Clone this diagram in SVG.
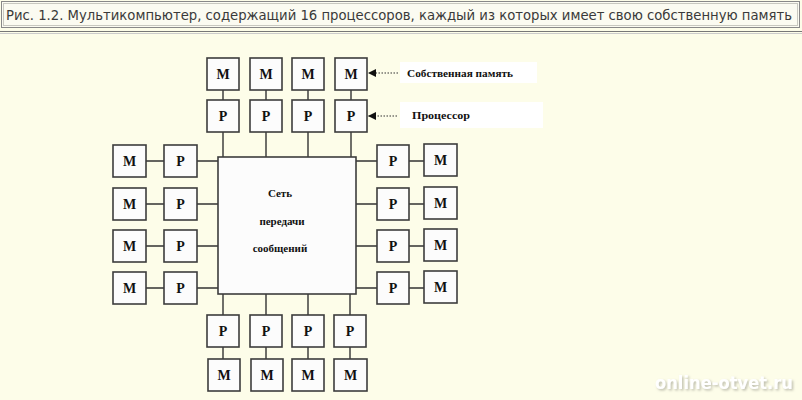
<svg xmlns="http://www.w3.org/2000/svg" width="802" height="400" viewBox="0 0 802 400">
<defs>
<style>
.bx{fill:#fcfcfc;stroke:#3c3c3c;stroke-width:1.6}
.lt{font-family:"Liberation Serif",serif;font-weight:bold;font-size:14px;fill:#111;text-anchor:middle}
.cn{stroke:#333;stroke-width:1.4;fill:none}
.dt{stroke:#333;stroke-width:1.2;stroke-dasharray:1.5 1.5;fill:none}
.lb{font-family:"Liberation Serif",serif;font-weight:bold;font-size:11px;fill:#111}
.ct{font-family:"Liberation Serif",serif;font-weight:bold;font-size:11px;fill:#111;text-anchor:middle}
</style>
<marker id="ah" viewBox="0 0 10 10" refX="10" refY="5" markerWidth="8" markerHeight="8" markerUnits="userSpaceOnUse" orient="auto">
<path d="M0,0 L10,5 L0,10 Z" fill="#111"/>
</marker>
<filter id="sh" x="-10%" y="-30%" width="120%" height="160%">
<feDropShadow dx="1.5" dy="1.5" stdDeviation="1.2" flood-color="#b8b8a8" flood-opacity="0.9"/>
</filter>
</defs>
<rect x="0" y="0" width="802" height="400" fill="#fdfde9"/>
<g id="title">
<rect x="1.5" y="1.5" width="798" height="26" fill="#fbfbf1" stroke="#888" stroke-width="1"/>
<rect x="3.5" y="3.5" width="794" height="22" fill="none" stroke="#c8c8c0" stroke-width="1"/>
<line x1="0" y1="31.5" x2="802" y2="31.5" stroke="#777" stroke-width="1"/>
<line x1="0" y1="33.5" x2="802" y2="33.5" stroke="#ccc" stroke-width="1"/>
<text x="6" y="20" font-family="'DejaVu Sans Condensed','DejaVu Sans',sans-serif" font-size="14.5" fill="#3a3a3a" textLength="786" lengthAdjust="spacingAndGlyphs">Рис. 1.2. Мультикомпьютер, содержащий 16 процессоров, каждый из которых имеет свою собственную память</text>
</g>
<g id="connectors">
<path class="cn" d="M223,90V100M266,90V100M308,90V100M351,90V100"/>
<path class="cn" d="M223,132V157M266,132V157M308,132V157M351,132V157"/>
<path class="cn" d="M146,161H164M146,204H164M146,246H164M146,288H164"/>
<path class="cn" d="M197,161H218M197,204H218M197,246H218M197,288H218"/>
<path class="cn" d="M356,161H377M356,204H377M356,246H377M356,288H377"/>
<path class="cn" d="M409,161H424M409,204H424M409,246H424M409,288H424"/>
<path class="cn" d="M223,294V315M266,294V315M308,294V315M350,294V315"/>
<path class="cn" d="M223,347V359M266,347V359M308,347V359M350,347V359"/>
<line class="dt" x1="398" y1="73" x2="368" y2="73" marker-end="url(#ah)"/>
<line class="dt" x1="397" y1="116" x2="368" y2="116" marker-end="url(#ah)"/>
</g>
<g id="net"><rect class="bx" x="218" y="157" width="138" height="137"/>
<text class="ct" x="280" y="197">Сеть</text>
<text class="ct" x="282" y="225">передачи</text>
<text class="ct" x="280" y="252">сообщений</text></g>
<g id="mt1"><rect class="bx" x="207" y="58" width="32" height="32"/><text class="lt" x="223" y="79">M</text></g>
<g id="mt2"><rect class="bx" x="250" y="58" width="32" height="32"/><text class="lt" x="266" y="79">M</text></g>
<g id="mt3"><rect class="bx" x="292" y="58" width="32" height="32"/><text class="lt" x="308" y="79">M</text></g>
<g id="mt4"><rect class="bx" x="335" y="58" width="32" height="32"/><text class="lt" x="351" y="79">M</text></g>
<g id="pt1"><rect class="bx" x="207" y="100" width="32" height="32"/><text class="lt" x="223" y="121">P</text></g>
<g id="pt2"><rect class="bx" x="250" y="100" width="32" height="32"/><text class="lt" x="266" y="121">P</text></g>
<g id="pt3"><rect class="bx" x="292" y="100" width="32" height="32"/><text class="lt" x="308" y="121">P</text></g>
<g id="pt4"><rect class="bx" x="335" y="100" width="32" height="32"/><text class="lt" x="351" y="121">P</text></g>
<g id="ml1"><rect class="bx" x="113" y="145" width="33" height="32"/><text class="lt" x="129.5" y="166">M</text></g>
<g id="ml2"><rect class="bx" x="113" y="188" width="33" height="32"/><text class="lt" x="129.5" y="209">M</text></g>
<g id="ml3"><rect class="bx" x="113" y="230" width="33" height="32"/><text class="lt" x="129.5" y="251">M</text></g>
<g id="ml4"><rect class="bx" x="113" y="272" width="33" height="32"/><text class="lt" x="129.5" y="293">M</text></g>
<g id="pl1"><rect class="bx" x="164" y="145" width="33" height="32"/><text class="lt" x="180.5" y="166">P</text></g>
<g id="pl2"><rect class="bx" x="164" y="188" width="33" height="32"/><text class="lt" x="180.5" y="209">P</text></g>
<g id="pl3"><rect class="bx" x="164" y="230" width="33" height="32"/><text class="lt" x="180.5" y="251">P</text></g>
<g id="pl4"><rect class="bx" x="164" y="272" width="33" height="32"/><text class="lt" x="180.5" y="293">P</text></g>
<g id="pr1"><rect class="bx" x="377" y="145" width="32" height="32"/><text class="lt" x="393" y="166">P</text></g>
<g id="pr2"><rect class="bx" x="377" y="188" width="32" height="32"/><text class="lt" x="393" y="209">P</text></g>
<g id="pr3"><rect class="bx" x="377" y="230" width="32" height="32"/><text class="lt" x="393" y="251">P</text></g>
<g id="pr4"><rect class="bx" x="377" y="272" width="32" height="32"/><text class="lt" x="393" y="293">P</text></g>
<g id="mr1"><rect class="bx" x="424" y="144" width="33" height="32"/><text class="lt" x="440.5" y="165">M</text></g>
<g id="mr2"><rect class="bx" x="424" y="187" width="33" height="32"/><text class="lt" x="440.5" y="208">M</text></g>
<g id="mr3"><rect class="bx" x="424" y="229" width="33" height="32"/><text class="lt" x="440.5" y="250">M</text></g>
<g id="mr4"><rect class="bx" x="424" y="271" width="33" height="32"/><text class="lt" x="440.5" y="292">M</text></g>
<g id="pb1"><rect class="bx" x="207" y="315" width="32" height="32"/><text class="lt" x="223" y="336">P</text></g>
<g id="pb2"><rect class="bx" x="250" y="315" width="32" height="32"/><text class="lt" x="266" y="336">P</text></g>
<g id="pb3"><rect class="bx" x="292" y="315" width="32" height="32"/><text class="lt" x="308" y="336">P</text></g>
<g id="pb4"><rect class="bx" x="334" y="315" width="32" height="32"/><text class="lt" x="350" y="336">P</text></g>
<g id="mb1"><rect class="bx" x="208" y="359" width="32" height="32"/><text class="lt" x="224" y="380">M</text></g>
<g id="mb2"><rect class="bx" x="251" y="359" width="32" height="32"/><text class="lt" x="267" y="380">M</text></g>
<g id="mb3"><rect class="bx" x="292" y="359" width="32" height="32"/><text class="lt" x="308" y="380">M</text></g>
<g id="mb4"><rect class="bx" x="334" y="359" width="33" height="32"/><text class="lt" x="350.5" y="380">M</text></g>
<g id="label-mem"><rect x="400" y="62" width="137" height="21" fill="#ffffff"/>
<text class="lb" x="407" y="77" textLength="106" lengthAdjust="spacingAndGlyphs">Собственная память</text></g>
<g id="label-proc"><rect x="400" y="102" width="143" height="26" fill="#ffffff"/>
<text class="lb" x="412" y="119" textLength="58" lengthAdjust="spacingAndGlyphs">Процессор</text></g>
<g id="watermark">
<text x="655" y="389" font-family="'DejaVu Sans Condensed','DejaVu Sans',sans-serif" font-weight="bold" font-size="17" fill="#ffffff" filter="url(#sh)" textLength="138" lengthAdjust="spacingAndGlyphs">online-otvet.ru</text>
</g>
</svg>
